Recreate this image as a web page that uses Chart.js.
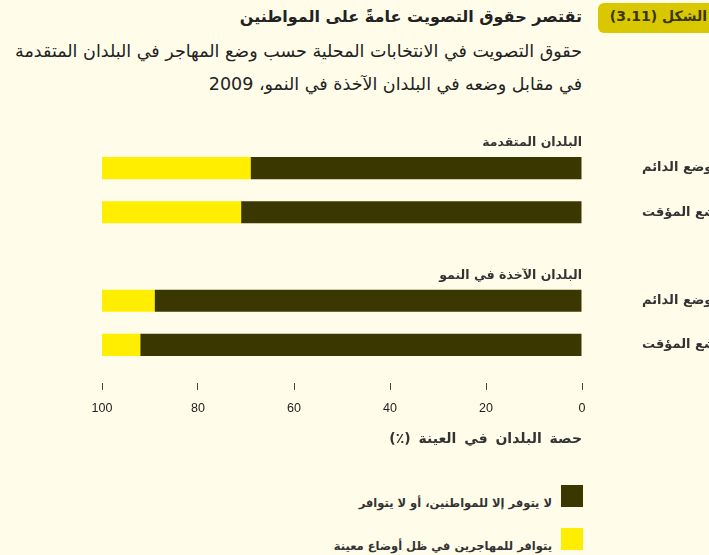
<!DOCTYPE html>
<html>
<head>
<meta charset="utf-8">
<script src="https://cdn.jsdelivr.net/npm/chart.js@4.4.0/dist/chart.umd.min.js"></script>
<style>
  html, body { margin: 0; padding: 0; }
  body {
    width: 709px; height: 555px; overflow: hidden; position: relative;
    background: #fffdea; font-family: "DejaVu Sans", sans-serif; color: #2b2b2b;
  }
  .abs { position: absolute; white-space: nowrap; }
  .rtl { direction: rtl; text-align: right; }
  #figBox { left: 598px; top: 3px; width: 140px; height: 30px; background: #d9c800; border-radius: 6px; }
  #figText { right: 2px; top: 8px; font-size: 14px; font-weight: bold; color: #3b3700; line-height: 16px; }
  #title { right: 127px; top: 7px; font-size: 16px; font-weight: bold; line-height: 20px; color: #222; }
  #subtitle { right: 127px; top: 35px; font-size: 17.5px; line-height: 33px; color: #222; }
  #chartWrap { left: 0; top: 120px; width: 709px; height: 310px; }
  #axisTitle { right: 127px; top: 429px; font-size: 14px; font-weight: bold; word-spacing: 3px; line-height: 18px; color: #333; }
  .swatch { position: absolute; left: 561px; width: 22px; height: 22px; }
  .legText { right: 157px; font-size: 11.5px; font-weight: bold; line-height: 16px; color: #333; }
</style>
</head>
<body>
<div id="figBox" class="abs"></div>
<div id="figText" class="abs rtl">الشكل (3.11)</div>
<div id="title" class="abs rtl">تقتصر حقوق التصويت عامةً على المواطنين</div>
<div id="subtitle" class="abs rtl">حقوق التصويت في الانتخابات المحلية حسب وضع المهاجر في البلدان المتقدمة<br>في مقابل وضعه في البلدان الآخذة في النمو، 2009</div>
<div id="chartWrap" class="abs"><canvas id="votingChart" width="709" height="310"></canvas></div>
<div id="axisTitle" class="abs rtl"></div>
<div id="legend"></div>

<script>
// --- datos ---
const categories = ['الوضع الدائم', 'الوضع المؤقت', '', 'الوضع الدائم', 'الوضع المؤقت'];
const groupLabels = ['البلدان المتقدمة', 'البلدان الآخذة في النمو'];
const groupFirstIndex = [0, 3];
const seriesNames = ['لا يتوفر إلا للمواطنين، أو لا يتوافر', 'يتوافر للمهاجرين في ظل أوضاع معينة'];
const citizensOnly = [69, 71, null, 89, 92];
const migrantsAllowed = [31, 29, null, 11, 8];
const xAxisTitle = 'حصة البلدان في العينة (٪)';

const DARK = '#3b3700';
const YELLOW = '#ffee00';
const labelFont = { family: '"DejaVu Sans", sans-serif', size: 13, weight: 'bold' };

document.getElementById('axisTitle').textContent = xAxisTitle;

// leyenda en HTML
const legend = document.getElementById('legend');
[DARK, YELLOW].forEach((color, i) => {
    const top = 485 + i * 43;
    legend.insertAdjacentHTML('beforeend',
        `<div class="swatch" style="top:${top}px;background:${color}"></div>` +
        `<div class="abs rtl legText" style="top:${top + 10}px">${seriesNames[i]}</div>`);
});

// etiquetas de grupo encima de cada bloque de barras
const groupLabelPlugin = {
    id: 'groupLabels',
    afterDraw(chart) {
        const ctx = chart.ctx;
        const y = chart.scales.y;
        ctx.save();
        ctx.font = 'bold 12.5px "DejaVu Sans", sans-serif';
        ctx.fillStyle = '#333';
        ctx.textAlign = 'right';
        ctx.textBaseline = 'middle';
        groupLabels.forEach((txt, i) => {
            ctx.fillText(txt, chart.chartArea.right, y.getPixelForValue(groupFirstIndex[i]) - 25);
        });
        ctx.restore();
    }
};

new Chart(document.getElementById('votingChart'), {
    type: 'bar',
    data: {
        labels: categories,
        datasets: [
            { label: seriesNames[0], data: citizensOnly, backgroundColor: DARK, borderWidth: 0 },
            { label: seriesNames[1], data: migrantsAllowed, backgroundColor: YELLOW, borderWidth: 0 }
        ]
    },
    options: {
        indexAxis: 'y',
        responsive: false,
        animation: false,
        barPercentage: 0.5,
        categoryPercentage: 1,
        layout: { padding: { top: 26, left: 102, right: 0, bottom: 0 } },
        plugins: { legend: { display: false }, tooltip: { enabled: false } },
        scales: {
            x: {
                type: 'linear', min: 0, max: 100, reverse: true, stacked: true,
                border: { display: false },
                grid: {
                    drawOnChartArea: false, drawTicks: true, tickLength: 23,
                    tickColor: '#444', tickWidth: 1, tickBorderDash: [0, 16, 7, 100]
                },
                ticks: { stepSize: 20, padding: 11, color: '#222', font: { family: '"Liberation Sans", sans-serif', size: 12.5 } },
                afterFit(scale) { scale.height = 63; }
            },
            y: {
                type: 'category', position: 'right', stacked: true,
                border: { display: false },
                // la separación horizontal de las etiquetas va en tickLength (no en padding,
                // que también se aplica arriba y abajo del área)
                grid: { display: false, drawTicks: true, tickLength: 56 },
                ticks: { padding: 4, crossAlign: 'near', color: '#333', font: labelFont },
                afterFit(scale) { scale.width = 127; }
            }
        }
    },
    plugins: [groupLabelPlugin]
});
</script>
</body>
</html>
